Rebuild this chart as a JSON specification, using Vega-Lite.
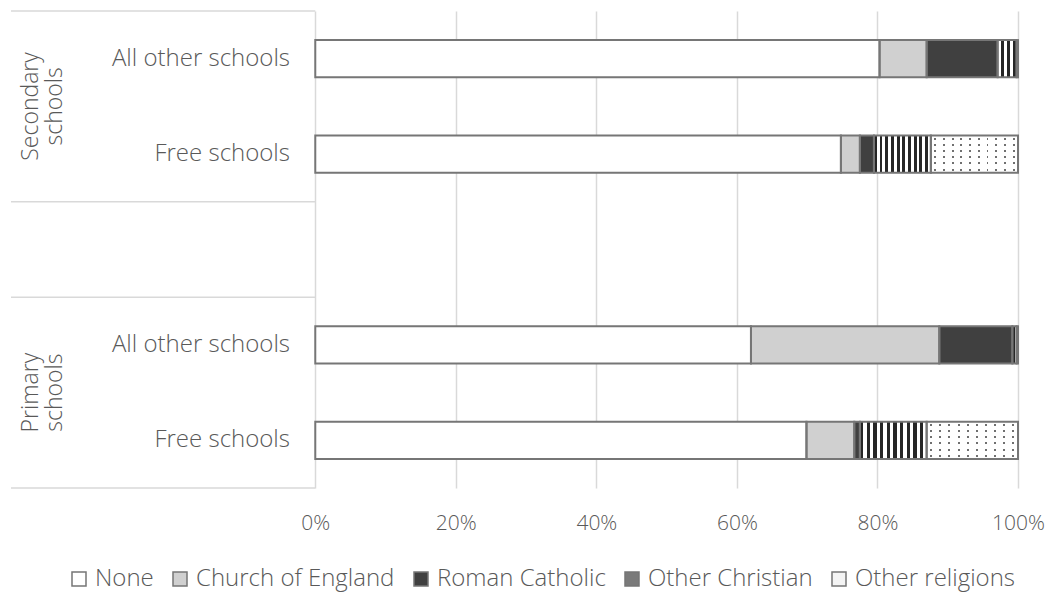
{
  "$schema": "https://vega.github.io/schema/vega-lite/v6.json",
  "width": 1007,
  "height": 477,
  "padding": {"left": 10, "top": 10, "right": 5, "bottom": 5},
  "autosize": {"type": "pad"},
  "config": {
    "view": {"stroke": null},
    "font": "Open Sans",
    "text": {"font": "Open Sans"}
  },
  "layer": [
    {
      "data": {
        "values": [
          {"bar": "Secondary schools | All other schools", "phase": "Secondary schools", "school": "All other schools", "religion": "None", "k": 1, "pct": 80.3},
          {"bar": "Secondary schools | All other schools", "phase": "Secondary schools", "school": "All other schools", "religion": "Church of England", "k": 2, "pct": 6.7},
          {"bar": "Secondary schools | All other schools", "phase": "Secondary schools", "school": "All other schools", "religion": "Roman Catholic", "k": 3, "pct": 10.1},
          {"bar": "Secondary schools | All other schools", "phase": "Secondary schools", "school": "All other schools", "religion": "Other Christian", "k": 4, "pct": 2.7},
          {"bar": "Secondary schools | All other schools", "phase": "Secondary schools", "school": "All other schools", "religion": "Other religions", "k": 5, "pct": 0.2},
          {"bar": "Secondary schools | Free schools", "phase": "Secondary schools", "school": "Free schools", "religion": "None", "k": 1, "pct": 74.8},
          {"bar": "Secondary schools | Free schools", "phase": "Secondary schools", "school": "Free schools", "religion": "Church of England", "k": 2, "pct": 2.7},
          {"bar": "Secondary schools | Free schools", "phase": "Secondary schools", "school": "Free schools", "religion": "Roman Catholic", "k": 3, "pct": 2.0},
          {"bar": "Secondary schools | Free schools", "phase": "Secondary schools", "school": "Free schools", "religion": "Other Christian", "k": 4, "pct": 8.1},
          {"bar": "Secondary schools | Free schools", "phase": "Secondary schools", "school": "Free schools", "religion": "Other religions", "k": 5, "pct": 12.4},
          {"bar": "Primary schools | All other schools", "phase": "Primary schools", "school": "All other schools", "religion": "None", "k": 1, "pct": 62.0},
          {"bar": "Primary schools | All other schools", "phase": "Primary schools", "school": "All other schools", "religion": "Church of England", "k": 2, "pct": 26.8},
          {"bar": "Primary schools | All other schools", "phase": "Primary schools", "school": "All other schools", "religion": "Roman Catholic", "k": 3, "pct": 10.4},
          {"bar": "Primary schools | All other schools", "phase": "Primary schools", "school": "All other schools", "religion": "Other Christian", "k": 4, "pct": 0.6},
          {"bar": "Primary schools | All other schools", "phase": "Primary schools", "school": "All other schools", "religion": "Other religions", "k": 5, "pct": 0.2},
          {"bar": "Primary schools | Free schools", "phase": "Primary schools", "school": "Free schools", "religion": "None", "k": 1, "pct": 69.9},
          {"bar": "Primary schools | Free schools", "phase": "Primary schools", "school": "Free schools", "religion": "Church of England", "k": 2, "pct": 6.8},
          {"bar": "Primary schools | Free schools", "phase": "Primary schools", "school": "Free schools", "religion": "Roman Catholic", "k": 3, "pct": 0.8},
          {"bar": "Primary schools | Free schools", "phase": "Primary schools", "school": "Free schools", "religion": "Other Christian", "k": 4, "pct": 9.5},
          {"bar": "Primary schools | Free schools", "phase": "Primary schools", "school": "Free schools", "religion": "Other religions", "k": 5, "pct": 13.0}
        ]
      },
      "transform": [
        {"stack": "pct", "groupby": ["bar"], "sort": [{"field": "k", "order": "ascending"}], "as": ["x0", "x1"]}
      ],
      "encoding": {
        "y": {
          "field": "bar",
          "type": "nominal",
          "scale": {
            "domain": ["Secondary schools | All other schools", "Secondary schools | Free schools", " ", "Primary schools | All other schools", "Primary schools | Free schools"],
            "paddingInner": 0.61,
            "paddingOuter": 0.305
          },
          "axis": null
        }
      },
      "layer": [
        {
          "mark": {"type": "bar"},
          "encoding": {
            "x": {
              "field": "x0",
              "type": "quantitative",
              "scale": {"domain": [-43.3, 100], "nice": false, "zero": false},
              "axis": {
                "title": null,
                "values": [0, 20, 40, 60, 80, 100],
                "labelExpr": "datum.value + '%'",
                "labelFlush": false,
                "grid": true,
                "gridColor": "#d9d9d9",
                "gridWidth": 1.5,
                "domain": false,
                "ticks": false,
                "labelPadding": 24,
                "labelFont": "Open Sans",
                "labelFontWeight": 300,
                "labelFontSize": 21,
                "labelColor": "#595959"
              }
            },
            "x2": {"field": "x1"},
            "fill": {
              "condition": [
                {
                  "test": "datum.religion === 'Other Christian' && datum.pct >= 4",
                  "value": {
                    "gradient": "linear", "x1": 0, "y1": 0, "x2": 1, "y2": 0,
                    "stops": [
                      {"offset": 0, "color": "#262626"}, {"offset": 0.05, "color": "#262626"}, {"offset": 0.05, "color": "#ffffff"}, {"offset": 0.1, "color": "#ffffff"},
                      {"offset": 0.1, "color": "#262626"}, {"offset": 0.15, "color": "#262626"}, {"offset": 0.15, "color": "#ffffff"}, {"offset": 0.2, "color": "#ffffff"},
                      {"offset": 0.2, "color": "#262626"}, {"offset": 0.25, "color": "#262626"}, {"offset": 0.25, "color": "#ffffff"}, {"offset": 0.3, "color": "#ffffff"},
                      {"offset": 0.3, "color": "#262626"}, {"offset": 0.35, "color": "#262626"}, {"offset": 0.35, "color": "#ffffff"}, {"offset": 0.4, "color": "#ffffff"},
                      {"offset": 0.4, "color": "#262626"}, {"offset": 0.45, "color": "#262626"}, {"offset": 0.45, "color": "#ffffff"}, {"offset": 0.5, "color": "#ffffff"},
                      {"offset": 0.5, "color": "#262626"}, {"offset": 0.55, "color": "#262626"}, {"offset": 0.55, "color": "#ffffff"}, {"offset": 0.6, "color": "#ffffff"},
                      {"offset": 0.6, "color": "#262626"}, {"offset": 0.65, "color": "#262626"}, {"offset": 0.65, "color": "#ffffff"}, {"offset": 0.7, "color": "#ffffff"},
                      {"offset": 0.7, "color": "#262626"}, {"offset": 0.75, "color": "#262626"}, {"offset": 0.75, "color": "#ffffff"}, {"offset": 0.8, "color": "#ffffff"},
                      {"offset": 0.8, "color": "#262626"}, {"offset": 0.85, "color": "#262626"}, {"offset": 0.85, "color": "#ffffff"}, {"offset": 0.9, "color": "#ffffff"},
                      {"offset": 0.9, "color": "#262626"}, {"offset": 0.95, "color": "#262626"}, {"offset": 0.95, "color": "#ffffff"}, {"offset": 1, "color": "#ffffff"}
                    ]
                  }
                },
                {
                  "test": "datum.religion === 'Other Christian'",
                  "value": {
                    "gradient": "linear", "x1": 0, "y1": 0, "x2": 1, "y2": 0,
                    "stops": [
                      {"offset": 0, "color": "#ffffff"}, {"offset": 0.1667, "color": "#ffffff"}, {"offset": 0.1667, "color": "#262626"}, {"offset": 0.3333, "color": "#262626"},
                      {"offset": 0.3333, "color": "#ffffff"}, {"offset": 0.5, "color": "#ffffff"}, {"offset": 0.5, "color": "#262626"}, {"offset": 0.6667, "color": "#262626"},
                      {"offset": 0.6667, "color": "#ffffff"}, {"offset": 0.8333, "color": "#ffffff"}, {"offset": 0.8333, "color": "#262626"}, {"offset": 1, "color": "#262626"}
                    ]
                  }
                }
              ],
              "field": "religion",
              "type": "nominal",
              "scale": {
                "domain": ["None", "Church of England", "Roman Catholic", "Other Christian", "Other religions"],
                "range": ["#ffffff", "#d0d0d0", "#404040", "#7a7a7a", "#f4f4f4"]
              },
              "legend": {
                "orient": "none",
                "legendX": 56,
                "legendY": 556,
                "direction": "horizontal",
                "title": null,
                "labelFont": "Open Sans",
                "labelFontWeight": 300,
                "labelFontSize": 24,
                "labelColor": "#595959",
                "labelLimit": 0,
                "labelOffset": 4,
                "columnPadding": 14,
                "symbolType": "square",
                "symbolSize": 196,
                "symbolOpacity": 1,
                "symbolStrokeColor": "#767676",
                "symbolStrokeWidth": 1.5
              }
            }
          }
        },
        {
          "transform": [{"filter": "datum.religion === 'Other religions'"}],
          "mark": {
            "type": "bar",
            "fill": {
              "gradient": "linear", "x1": 0, "y1": 0, "x2": 1, "y2": 0,
              "stops": [
                {"offset": 0, "color": "#ffffff"},
                {"offset": 0.039, "color": "#ffffff"}, {"offset": 0.039, "color": "#707070"}, {"offset": 0.061, "color": "#707070"}, {"offset": 0.061, "color": "#ffffff"},
                {"offset": 0.139, "color": "#ffffff"}, {"offset": 0.139, "color": "#707070"}, {"offset": 0.161, "color": "#707070"}, {"offset": 0.161, "color": "#ffffff"},
                {"offset": 0.239, "color": "#ffffff"}, {"offset": 0.239, "color": "#707070"}, {"offset": 0.261, "color": "#707070"}, {"offset": 0.261, "color": "#ffffff"},
                {"offset": 0.339, "color": "#ffffff"}, {"offset": 0.339, "color": "#707070"}, {"offset": 0.361, "color": "#707070"}, {"offset": 0.361, "color": "#ffffff"},
                {"offset": 0.439, "color": "#ffffff"}, {"offset": 0.439, "color": "#707070"}, {"offset": 0.461, "color": "#707070"}, {"offset": 0.461, "color": "#ffffff"},
                {"offset": 0.539, "color": "#ffffff"}, {"offset": 0.539, "color": "#707070"}, {"offset": 0.561, "color": "#707070"}, {"offset": 0.561, "color": "#ffffff"},
                {"offset": 0.639, "color": "#ffffff"}, {"offset": 0.639, "color": "#707070"}, {"offset": 0.661, "color": "#707070"}, {"offset": 0.661, "color": "#ffffff"},
                {"offset": 0.739, "color": "#ffffff"}, {"offset": 0.739, "color": "#707070"}, {"offset": 0.761, "color": "#707070"}, {"offset": 0.761, "color": "#ffffff"},
                {"offset": 0.839, "color": "#ffffff"}, {"offset": 0.839, "color": "#707070"}, {"offset": 0.861, "color": "#707070"}, {"offset": 0.861, "color": "#ffffff"},
                {"offset": 0.939, "color": "#ffffff"}, {"offset": 0.939, "color": "#707070"}, {"offset": 0.961, "color": "#707070"}, {"offset": 0.961, "color": "#ffffff"},
                {"offset": 1, "color": "#ffffff"}
              ]
            }
          },
          "encoding": {
            "x": {"field": "x0", "type": "quantitative"},
            "x2": {"field": "x1"}
          }
        },
        {
          "transform": [{"filter": "datum.religion === 'Other religions'"}],
          "mark": {
            "type": "bar",
            "fill": {
              "gradient": "linear", "x1": 0, "y1": 0, "x2": 0, "y2": 1,
              "stops": [
                {"offset": 0, "color": "#ffffff"},
                {"offset": 0.056, "color": "#ffffff"}, {"offset": 0.056, "color": "rgba(255,255,255,0)"}, {"offset": 0.11, "color": "rgba(255,255,255,0)"}, {"offset": 0.11, "color": "#ffffff"},
                {"offset": 0.223, "color": "#ffffff"}, {"offset": 0.223, "color": "rgba(255,255,255,0)"}, {"offset": 0.277, "color": "rgba(255,255,255,0)"}, {"offset": 0.277, "color": "#ffffff"},
                {"offset": 0.39, "color": "#ffffff"}, {"offset": 0.39, "color": "rgba(255,255,255,0)"}, {"offset": 0.444, "color": "rgba(255,255,255,0)"}, {"offset": 0.444, "color": "#ffffff"},
                {"offset": 0.556, "color": "#ffffff"}, {"offset": 0.556, "color": "rgba(255,255,255,0)"}, {"offset": 0.61, "color": "rgba(255,255,255,0)"}, {"offset": 0.61, "color": "#ffffff"},
                {"offset": 0.723, "color": "#ffffff"}, {"offset": 0.723, "color": "rgba(255,255,255,0)"}, {"offset": 0.777, "color": "rgba(255,255,255,0)"}, {"offset": 0.777, "color": "#ffffff"},
                {"offset": 0.89, "color": "#ffffff"}, {"offset": 0.89, "color": "rgba(255,255,255,0)"}, {"offset": 0.944, "color": "rgba(255,255,255,0)"}, {"offset": 0.944, "color": "#ffffff"},
                {"offset": 1, "color": "#ffffff"}
              ]
            }
          },
          "encoding": {
            "x": {"field": "x0", "type": "quantitative"},
            "x2": {"field": "x1"}
          }
        },
        {
          "mark": {"type": "bar", "fillOpacity": 0, "stroke": "#767676", "strokeWidth": 2},
          "encoding": {
            "x": {"field": "x0", "type": "quantitative"},
            "x2": {"field": "x1"}
          }
        },
        {
          "transform": [{"filter": "datum.religion === 'None'"}],
          "mark": {"type": "text", "align": "right", "baseline": "middle", "fontSize": 24, "fontWeight": 300, "color": "#595959", "font": "Open Sans"},
          "encoding": {
            "x": {"datum": -3.6, "type": "quantitative"},
            "text": {"field": "school"}
          }
        }
      ]
    },
    {
      "data": {
        "values": [
          {"phase": "Secondary schools", "first": 0, "last": 2},
          {"phase": "Primary schools", "first": 3, "last": 5}
        ]
      },
      "layer": [
        {
          "mark": {"type": "rule", "color": "#d9d9d9", "strokeWidth": 1.5},
          "encoding": {
            "x": {"datum": -43.3, "type": "quantitative"},
            "x2": {"datum": 0},
            "y": {"field": "first", "type": "quantitative", "scale": {"domain": [0, 5], "reverse": true, "nice": false, "zero": false}, "axis": null}
          }
        },
        {
          "mark": {"type": "rule", "color": "#d9d9d9", "strokeWidth": 1.5},
          "encoding": {
            "x": {"datum": -43.3, "type": "quantitative"},
            "x2": {"datum": 0},
            "y": {"field": "last", "type": "quantitative", "scale": {"domain": [0, 5], "reverse": true, "nice": false, "zero": false}, "axis": null}
          }
        },
        {
          "transform": [{"fold": ["first", "last"], "as": ["edge", "pos"]}],
          "mark": {"type": "text", "angle": 270, "align": "center", "baseline": "middle", "lineBreak": " ", "lineHeight": 24, "fontSize": 23, "fontWeight": 300, "color": "#595959", "font": "Open Sans"},
          "encoding": {
            "x": {"datum": -40.4, "type": "quantitative"},
            "y": {"field": "pos", "type": "quantitative", "aggregate": "mean", "scale": {"domain": [0, 5], "reverse": true, "nice": false, "zero": false}, "axis": null},
            "text": {"field": "phase"}
          }
        }
      ]
    }
  ],
  "resolve": {"scale": {"y": "independent"}}
}
